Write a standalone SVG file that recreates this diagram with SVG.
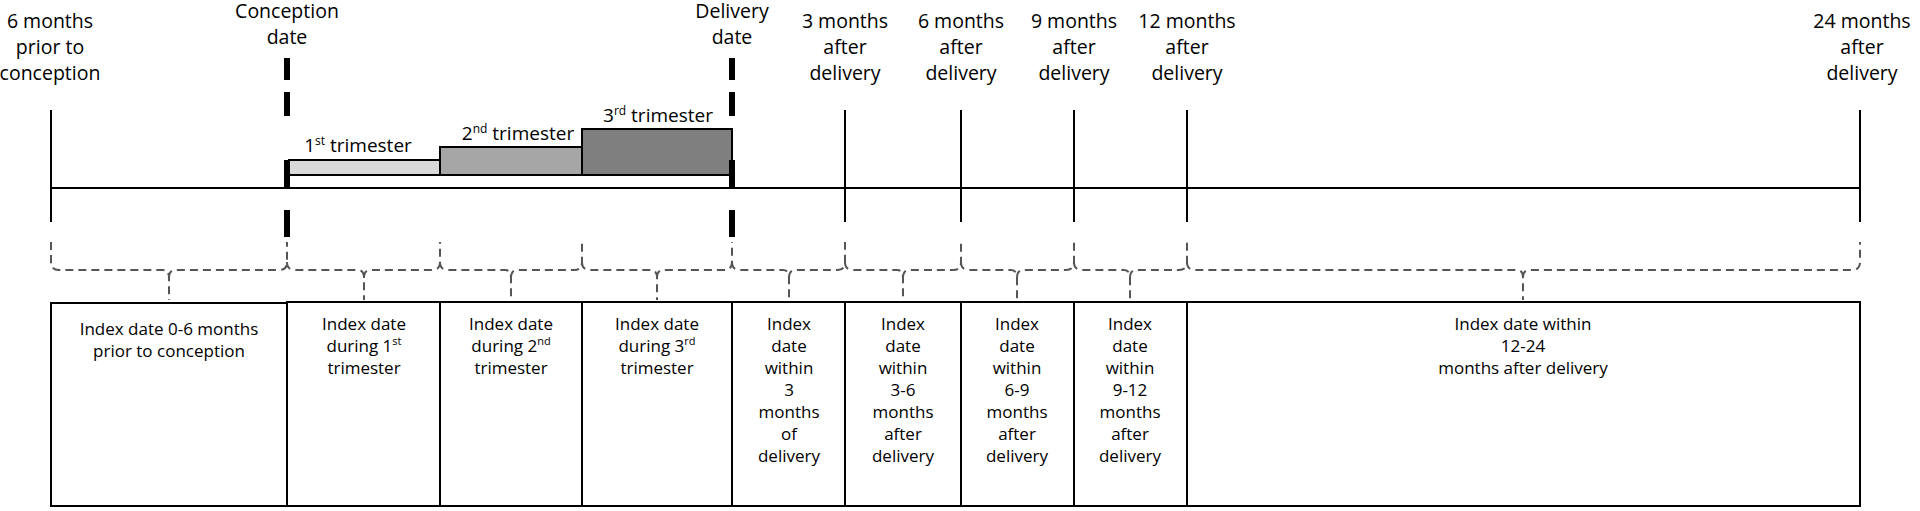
<svg xmlns="http://www.w3.org/2000/svg" width="1920" height="511" viewBox="0 0 1920 511">
<style>
text{font-family:"Open Sans","Liberation Sans",sans-serif;fill:#000;text-anchor:middle}
.h{font-size:19.5px}.b{font-size:17px}.t{font-size:19px}
.ln{stroke:#000;stroke-width:2;fill:none}
.br{stroke:#555;stroke-width:2;stroke-dasharray:8 5;fill:none}
.box{fill:#fff;stroke:#000;stroke-width:2}
</style>
<rect width="1920" height="511" fill="#fff"/>
<g id="headers" class="h">
<text x="50" y="28">6 months</text><text x="50" y="54">prior to</text><text x="50" y="80">conception</text>
<text x="287" y="18">Conception</text><text x="287" y="44">date</text>
<text x="732" y="18">Delivery</text><text x="732" y="44">date</text>
<text x="845" y="28">3 months</text><text x="845" y="54">after</text><text x="845" y="80">delivery</text>
<text x="961" y="28">6 months</text><text x="961" y="54">after</text><text x="961" y="80">delivery</text>
<text x="1074" y="28">9 months</text><text x="1074" y="54">after</text><text x="1074" y="80">delivery</text>
<text x="1187" y="28">12 months</text><text x="1187" y="54">after</text><text x="1187" y="80">delivery</text>
<text x="1862" y="28">24 months</text><text x="1862" y="54">after</text><text x="1862" y="80">delivery</text>
</g>
<g id="trimesters">
<rect x="289" y="160" width="151" height="15" fill="#d9d9d9" stroke="#000" stroke-width="2"/>
<rect x="440" y="147" width="142" height="28" fill="#a6a6a6" stroke="#000" stroke-width="2"/>
<rect x="582" y="129" width="150" height="46" fill="#7f7f7f" stroke="#000" stroke-width="2"/>
<text class="t" x="358" y="152">1<tspan font-size="12" dy="-7">st</tspan><tspan dy="7"> trimester</tspan></text>
<text class="t" x="518" y="140">2<tspan font-size="12" dy="-7">nd</tspan><tspan dy="7"> trimester</tspan></text>
<text class="t" x="658" y="122">3<tspan font-size="12" dy="-7">rd</tspan><tspan dy="7"> trimester</tspan></text>
</g>
<g id="timeline">
<line class="ln" x1="51" y1="188" x2="1860" y2="188"/>
<line class="ln" x1="51" y1="110" x2="51" y2="222"/>
<line class="ln" x1="845" y1="110" x2="845" y2="222"/>
<line class="ln" x1="961" y1="110" x2="961" y2="222"/>
<line class="ln" x1="1074" y1="110" x2="1074" y2="222"/>
<line class="ln" x1="1187" y1="110" x2="1187" y2="222"/>
<line class="ln" x1="1860" y1="110" x2="1860" y2="222"/>
<path d="M287 58V80M287 92V116M287 160V188M287 210V237" stroke="#000" stroke-width="6"/>
<path d="M732 58V80M732 92V116M732 160V188M732 210V237" stroke="#000" stroke-width="6"/>
</g>
<g id="connectors" class="br">
<path d="M51 242V262Q51 270 59 270H163Q169 270 169 278V300M169 278Q169 270 175 270H279Q287 270 287 262V242"/>
<path d="M287 262Q287 270 295 270H358Q364 270 364 278V300M364 278Q364 270 370 270H432Q440 270 440 262V242"/>
<path d="M440 262Q440 270 448 270H505Q511 270 511 278V300M511 278Q511 270 517 270H574Q582 270 582 262V242"/>
<path d="M582 262Q582 270 590 270H651Q657 270 657 278V300M657 278Q657 270 663 270H724Q732 270 732 262V242"/>
<path d="M732 262Q732 270 740 270H783Q789 270 789 278V300M789 278Q789 270 795 270H837Q845 270 845 262V242"/>
<path d="M845 262Q845 270 853 270H897Q903 270 903 278V300M903 278Q903 270 909 270H953Q961 270 961 262V242"/>
<path d="M961 262Q961 270 969 270H1011Q1017 270 1017 278V300M1017 278Q1017 270 1023 270H1066Q1074 270 1074 262V242"/>
<path d="M1074 262Q1074 270 1082 270H1124Q1130 270 1130 278V300M1130 278Q1130 270 1136 270H1179Q1187 270 1187 262V242"/>
<path d="M1187 262Q1187 270 1195 270H1517Q1523 270 1523 278V300M1523 278Q1523 270 1529 270H1852Q1860 270 1860 262V242"/>
</g>
<g id="boxes">
<rect class="box" x="51" y="303" width="236" height="203"/>
<rect class="box" x="287" y="302" width="153" height="204"/>
<rect class="box" x="440" y="302" width="142" height="204"/>
<rect class="box" x="582" y="302" width="150" height="204"/>
<rect class="box" x="732" y="302" width="113" height="204"/>
<rect class="box" x="845" y="302" width="116" height="204"/>
<rect class="box" x="961" y="302" width="113" height="204"/>
<rect class="box" x="1074" y="302" width="113" height="204"/>
<rect class="box" x="1187" y="302" width="673" height="204"/>
</g>
<g id="labels" class="b">
<text x="169" y="335">Index date 0-6 months</text><text x="169" y="357">prior to conception</text>
<text x="364" y="330">Index date</text><text x="364" y="352">during 1<tspan font-size="11" dy="-7">st</tspan></text><text x="364" y="374">trimester</text>
<text x="511" y="330">Index date</text><text x="511" y="352">during 2<tspan font-size="11" dy="-7">nd</tspan></text><text x="511" y="374">trimester</text>
<text x="657" y="330">Index date</text><text x="657" y="352">during 3<tspan font-size="11" dy="-7">rd</tspan></text><text x="657" y="374">trimester</text>
<text x="789" y="330">Index</text><text x="789" y="352">date</text><text x="789" y="374">within</text><text x="789" y="396">3</text><text x="789" y="418">months</text><text x="789" y="440">of</text><text x="789" y="462">delivery</text>
<text x="903" y="330">Index</text><text x="903" y="352">date</text><text x="903" y="374">within</text><text x="903" y="396">3-6</text><text x="903" y="418">months</text><text x="903" y="440">after</text><text x="903" y="462">delivery</text>
<text x="1017" y="330">Index</text><text x="1017" y="352">date</text><text x="1017" y="374">within</text><text x="1017" y="396">6-9</text><text x="1017" y="418">months</text><text x="1017" y="440">after</text><text x="1017" y="462">delivery</text>
<text x="1130" y="330">Index</text><text x="1130" y="352">date</text><text x="1130" y="374">within</text><text x="1130" y="396">9-12</text><text x="1130" y="418">months</text><text x="1130" y="440">after</text><text x="1130" y="462">delivery</text>
<text x="1523" y="330">Index date within</text><text x="1523" y="352">12-24</text><text x="1523" y="374">months after delivery</text>
</g>
</svg>
